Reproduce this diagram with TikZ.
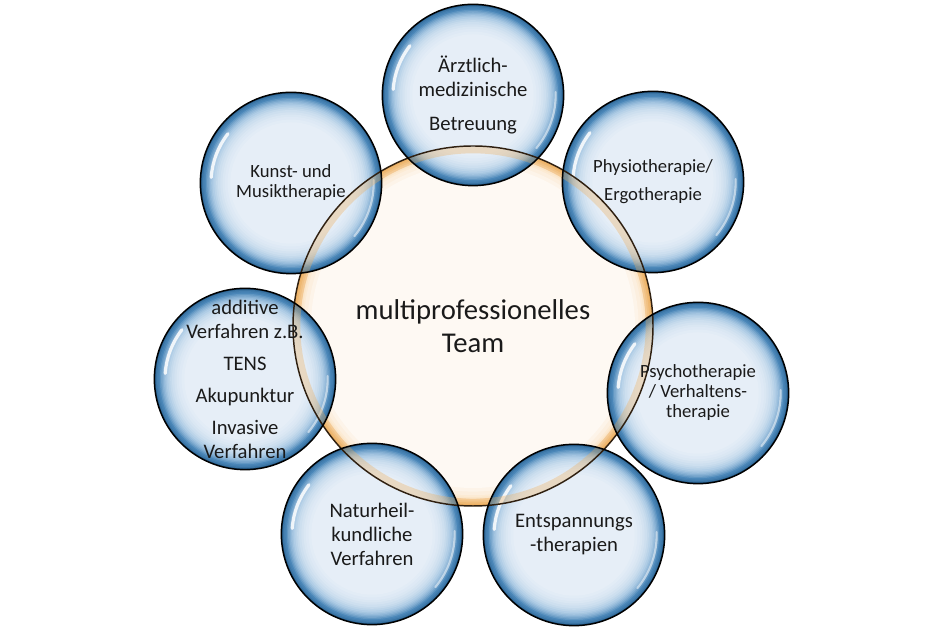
\documentclass[tikz,border=0pt]{standalone}
\usepackage{fontspec}
\setmainfont{Carlito}
\usepackage{xcolor}
\usetikzlibrary{backgrounds}

\definecolor{bubblein}{HTML}{E6EEF7}
\definecolor{bubblemid}{HTML}{B0CDE6}
\definecolor{bubbleout}{HTML}{4A86B8}
\definecolor{bubbleedge}{HTML}{215886}
\definecolor{teamin}{HTML}{FEF9F3}
\definecolor{teammid}{HTML}{FBE6CA}
\definecolor{teamout}{HTML}{EDB062}
\definecolor{textgray}{HTML}{1A1A1A}

\begin{document}
\begin{tikzpicture}[x=0.75pt,y=0.75pt,
  bubble/.style={circle, minimum size=136pt, inner sep=0pt, draw=black, line width=1.1pt,
    text=textgray, align=center, font={\fontsize{15.5}{18}\selectfont}},
  smallbubble/.style={bubble, font={\fontsize{14}{15}\selectfont}},
  gloss/.style={white, opacity=0.85, line width=2.4pt, line cap=round},
  team/.style={circle, minimum size=270pt, inner sep=0pt, draw=black!75!brown, line width=1.1pt,
    text=textgray, align=center, font={\fontsize{21.5}{24.75}\selectfont}}]
\useasboundingbox (0,0) rectangle (946,630);

% centre
\node[team] (team) at (473,304) {multiprofessionelles\\Team};

% bubbles round the team
\node[bubble] (arzt) at (473,535) {Ärztlich-\\medizinische\\[7pt]Betreuung};
\node[smallbubble] (physio) at (653,448) {Physiotherapie/\\[6pt]Ergotherapie};
\node[smallbubble] (psycho) at (698,237) {Psychotherapie\\/ Verhaltens-\\therapie};
\node[bubble] (entsp) at (574,95) {Entspannungs\\-therapien};
\node[bubble] (natur) at (372,96) {Naturheil-\\kundliche\\Verfahren};
\node[bubble, inner sep=-14pt] (additiv) at (245,251) {additive\\Verfahren z.B.\\[6pt]TENS\\[6pt]Akupunktur\\[6pt]Invasive\\Verfahren};
\node[smallbubble] (kunst) at (291,447) {Kunst- und\\Musiktherapie};

% fills: rings from rim to middle
\begin{pgfonlayer}{background}
\foreach \f/\c in {1.00/teamout, 0.99/teamout!75!teammid, 0.98/teamout!50!teammid, 0.97/teamout!25!teammid,
    0.96/teammid, 0.95/teammid!75!teamin, 0.94/teammid!50!teamin, 0.92/teammid!25!teamin, 0.90/teamin}
  \fill[\c] (team.center) circle[radius=\f*135pt];
\foreach \b in {arzt,physio,psycho,entsp,natur,additiv,kunst} {
  \foreach \f/\c in {1.00/bubbleedge, 0.985/bubbleout!60!bubbleedge, 0.97/bubbleout!85!bubbleedge,
      0.955/bubbleout, 0.94/bubbleout!78!bubblemid, 0.925/bubbleout!58!bubblemid, 0.91/bubbleout!40!bubblemid,
      0.895/bubbleout!25!bubblemid, 0.88/bubbleout!12!bubblemid, 0.865/bubblemid, 0.845/bubblemid!80!bubblein,
      0.825/bubblemid!62!bubblein, 0.805/bubblemid!47!bubblein, 0.78/bubblemid!34!bubblein,
      0.755/bubblemid!23!bubblein, 0.73/bubblemid!14!bubblein, 0.70/bubblemid!7!bubblein,
      0.67/bubblein}
    \fill[\c] (\b.center) circle[radius=\f*68pt];
  \draw[gloss] ([shift={(142:60pt)}]\b.center) arc[start angle=142, end angle=176, radius=60pt];
  \draw[gloss, opacity=0.5, line width=1.6pt] ([shift={(-40:62pt)}]\b.center) arc[start angle=-40, end angle=2, radius=62pt];
}
% orange tint of the team rim seen through the bubbles
\draw[teamout, opacity=0.35, line width=5pt] (team.center) circle[radius=132pt];
\end{pgfonlayer}
\end{tikzpicture}
\end{document}
